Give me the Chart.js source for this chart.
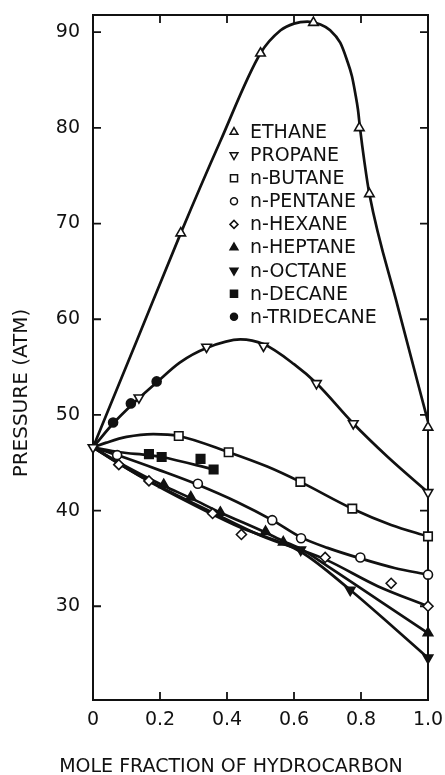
<!DOCTYPE html>
<html lang="en">
<head>
  <meta charset="UTF-8">
  <title>Pressure vs mole fraction of hydrocarbon</title>
  <script src="https://cdn.jsdelivr.net/npm/chart.js@4"></script>
  <style>
    html, body { margin: 0; padding: 0; background: #fff; }
    #wrap { width: 445px; height: 775px; }
  </style>
</head>
<body>
  <div id="wrap"><canvas id="chart" width="445" height="775"></canvas></div>

  <script>
    // axis ticks
    const xTicks = [0, 0.2, 0.4, 0.6, 0.8, 1.0];
    const yTicks = [30, 40, 50, 60, 70, 80, 90];

    const compoundLabels = ['ETHANE', 'PROPANE', 'n-BUTANE', 'n-PENTANE', 'n-HEXANE',
      'n-HEPTANE', 'n-OCTANE', 'n-DECANE', 'n-TRIDECANE'];

    // measured points [mole fraction, pressure (atm)]
    const ethanePoints = [[0.262, 69.0], [0.50, 87.8], [0.658, 91.0], [0.795, 80.0], [0.825, 73.1], [1.0, 48.7]];
    const propanePoints = [[0, 46.6], [0.137, 51.8], [0.339, 57.1], [0.509, 57.2], [0.667, 53.3], [0.777, 49.1], [1.0, 41.9]];
    const butanePoints = [[0.256, 47.8], [0.405, 46.1], [0.619, 43.0], [0.774, 40.2], [1.0, 37.3]];
    const pentanePoints = [[0.072, 45.8], [0.313, 42.8], [0.535, 39.0], [0.621, 37.1], [0.798, 35.1], [1.0, 33.3]];
    const hexanePoints = [[0.077, 44.8], [0.167, 43.1], [0.357, 39.7], [0.443, 37.5], [0.693, 35.1], [0.89, 32.4], [1.0, 30.0]];
    const heptanePoints = [[0.211, 42.7], [0.292, 41.4], [0.38, 39.8], [0.515, 37.8], [0.568, 36.7], [1.0, 27.2]];
    const octanePoints = [[0.62, 35.9], [0.768, 31.7], [1.0, 24.6]];
    const decanePoints = [[0.167, 45.9], [0.205, 45.6], [0.321, 45.4], [0.36, 44.3]];
    const tridecanePoints = [[0.06, 49.2], [0.113, 51.2], [0.19, 53.5]];

    // the smooth curves as drawn in the figure
    const ethaneCurve = [[0, 46.6], [0.13, 57.7], [0.262, 69.0], [0.38, 78.6], [0.5, 87.8], [0.56, 90.2], [0.6, 90.9],
      [0.64, 91.1], [0.679, 90.8], [0.708, 90.2], [0.738, 88.9], [0.758, 87.1], [0.773, 85.4], [0.783, 83.6],
      [0.791, 81.9], [0.797, 80.0], [0.81, 76.5], [0.825, 73.1], [0.91, 61.3], [1.0, 49.3]];
    const propaneCurve = [[0, 46.6], [0.06, 49.1], [0.12, 51.2], [0.19, 53.4], [0.26, 55.5], [0.339, 57.0], [0.44, 57.9],
      [0.509, 57.4], [0.6, 55.3], [0.667, 53.3], [0.777, 49.1], [0.88, 45.6], [1.0, 41.9]];
    const butaneCurve = [[0, 46.6], [0.04, 47.1], [0.1, 47.7], [0.18, 48.0], [0.256, 47.8], [0.405, 46.1], [0.52, 44.6],
      [0.619, 43.0], [0.774, 40.2], [0.89, 38.5], [1.0, 37.3]];
    const pentaneCurve = [[0, 46.6], [0.072, 45.8], [0.2, 44.2], [0.313, 42.7], [0.43, 40.9], [0.535, 39.0], [0.621, 37.2],
      [0.7, 36.1], [0.798, 35.0], [0.9, 34.0], [1.0, 33.3]];
    const hexaneCurve = [[0, 46.6], [0.077, 44.9], [0.167, 43.1], [0.357, 39.8], [0.5, 37.4], [0.693, 34.9], [0.85, 32.1], [1.0, 30.0]];
    const heptaneCurve = [[0, 46.6], [0.1, 44.6], [0.211, 42.6], [0.292, 41.3], [0.38, 39.8], [0.515, 37.7], [0.568, 36.8],
      [0.62, 36.0], [0.7, 34.2], [0.85, 30.7], [1.0, 27.2]];
    const octaneCurve = [[0, 46.6], [0.15, 43.4], [0.3, 40.6], [0.435, 38.3], [0.62, 35.7], [0.768, 31.7], [0.9, 27.7], [1.0, 24.6]];
    const decaneCurve = [[0, 46.6], [0.08, 46.1], [0.167, 45.8], [0.205, 45.6], [0.36, 44.3]];

    const allPoints = [ethanePoints, propanePoints, butanePoints, pentanePoints, hexanePoints,
      heptanePoints, octanePoints, decanePoints, tridecanePoints];
    const allCurves = [ethaneCurve, propaneCurve, butaneCurve, pentaneCurve, hexaneCurve,
      heptaneCurve, octaneCurve, decaneCurve];

    // marker look per compound
    const markerStyle = ['triangle', 'triangle', 'rect', 'circle', 'rectRot', 'triangle', 'triangle', 'rect', 'circle'];
    const markerRot = [0, 180, 0, 0, 0, 0, 180, 0, 0];
    const markerFilled = [false, false, false, false, false, true, true, true, true];
    const markerSize = { triangle: 5.5, rect: 6, circle: 4.5, rectRot: 5 };

    const INK = '#111';
    const FONT = 'DejaVu Sans';
    const toXY = arr => arr.map(p => ({ x: p[0], y: p[1] }));

    const datasets = [];
    allPoints.forEach((pts, i) => {
      datasets.push({
        label: compoundLabels[i],
        data: toXY(pts),
        showLine: false,
        pointStyle: markerStyle[i],
        rotation: markerRot[i],
        pointRadius: markerSize[markerStyle[i]],
        pointBorderWidth: 1.6,
        pointBorderColor: INK,
        pointBackgroundColor: markerFilled[i] ? INK : '#fff',
        clip: false,
        order: 0
      });
    });
    allCurves.forEach(c => {
      datasets.push({
        data: toXY(c),
        showLine: true,
        borderColor: INK,
        borderWidth: 2.7,
        pointRadius: 0,
        cubicInterpolationMode: 'monotone',
        clip: 4,
        order: 1
      });
    });

    // box, inward ticks, legend and axis titles
    const decorPlugin = {
      id: 'decor',
      beforeDatasetsDraw(chart) {
        const { ctx, chartArea: a, scales } = chart;
        ctx.save();
        ctx.strokeStyle = INK;
        ctx.lineWidth = 2;
        ctx.strokeRect(a.left, a.top, a.right - a.left, a.bottom - a.top);
        ctx.lineWidth = 1.8;
        const len = 8;
        ctx.beginPath();
        yTicks.forEach(v => {
          const py = scales.y.getPixelForValue(v);
          ctx.moveTo(a.left, py); ctx.lineTo(a.left + len, py);
          ctx.moveTo(a.right, py); ctx.lineTo(a.right - len, py);
        });
        xTicks.forEach(v => {
          const px = scales.x.getPixelForValue(v);
          ctx.moveTo(px, a.bottom); ctx.lineTo(px, a.bottom - len);
          ctx.moveTo(px, a.top); ctx.lineTo(px, a.top + len);
        });
        ctx.stroke();
        ctx.restore();
      },
      afterDatasetsDraw(chart) {
        const { ctx } = chart;
        ctx.save();
        // legend
        ctx.font = '19px "' + FONT + '"';
        ctx.textBaseline = 'middle';
        ctx.textAlign = 'left';
        compoundLabels.forEach((lab, i) => {
          const y = 132 + 23.1 * i;
          ctx.fillStyle = markerFilled[i] ? INK : '#fff';
          ctx.strokeStyle = INK;
          ctx.lineWidth = 1.5;
          Chart.helpers.drawPoint(ctx, {
            pointStyle: markerStyle[i],
            rotation: markerRot[i],
            radius: markerSize[markerStyle[i]] - 1,
            borderWidth: 1.5
          }, 234, y);
          ctx.fillStyle = INK;
          ctx.fillText(lab, 250, y + 1);
        });
        // axis titles
        ctx.fillStyle = INK;
        ctx.textAlign = 'center';
        ctx.textBaseline = 'alphabetic';
        ctx.font = '19px "' + FONT + '"';
        ctx.fillText('MOLE FRACTION OF HYDROCARBON', 231, 772);
        ctx.translate(27, 393);
        ctx.rotate(-Math.PI / 2);
        ctx.font = '20px "' + FONT + '"';
        ctx.fillText('PRESSURE (ATM)', 0, 0);
        ctx.restore();
      }
    };

    new Chart(document.getElementById('chart'), {
      type: 'scatter',
      data: { datasets: datasets },
      plugins: [decorPlugin],
      options: {
        responsive: false,
        devicePixelRatio: 1,
        animation: false,
        layout: { padding: { top: 15, right: 17, left: 0, bottom: 0 } },
        plugins: { legend: { display: false }, tooltip: { enabled: false } },
        scales: {
          x: {
            type: 'linear',
            min: 0,
            max: 1,
            afterBuildTicks: s => { s.ticks = xTicks.map(v => ({ value: v })); },
            afterFit: s => { s.height = 75; s.paddingLeft = 0; s.paddingRight = 0; },
            grid: { display: false, drawTicks: false },
            border: { display: false },
            ticks: {
              color: INK,
              padding: 9,
              font: { family: FONT, size: 19 },
              maxRotation: 0,
              callback: v => (v === 0 ? '0' : v.toFixed(1))
            }
          },
          y: {
            type: 'linear',
            min: 20.2,
            max: 91.8,
            afterBuildTicks: s => { s.ticks = yTicks.map(v => ({ value: v })); },
            afterFit: s => { s.width = 93; s.paddingTop = 0; s.paddingBottom = 0; },
            grid: { display: false, drawTicks: false },
            border: { display: false },
            ticks: {
              color: INK,
              padding: 13,
              font: { family: FONT, size: 19 }
            }
          }
        }
      }
    });
  </script>
</body>
</html>
